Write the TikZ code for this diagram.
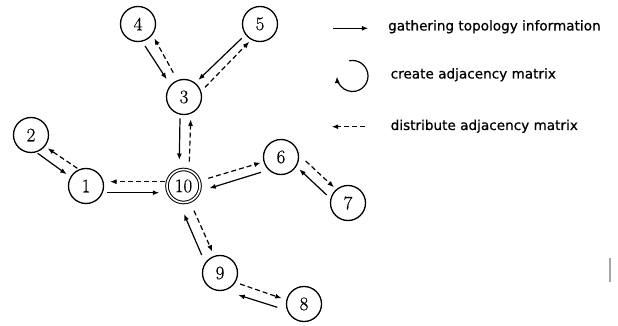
\documentclass[tikz,border=0pt]{standalone}
\usepackage{fontspec}
\newfontfamily\legfont[FakeBold=0.6]{DejaVu Sans}
\newfontfamily\numfont[FakeBold=0.5]{Latin Modern Roman}
\usetikzlibrary{arrows.meta}
\begin{document}
\begin{tikzpicture}[x=1pt,y=-1pt,
  nd/.style={circle,draw,line width=1.3pt,minimum size=35pt,inner sep=0pt,font=\numfont\fontsize{19}{19}\selectfont},
  hub/.style={nd,minimum size=33pt,double,double distance=1.6pt,line width=1pt},
  gath/.style={line width=1.2pt,-{Latex[length=6.5pt,width=5pt]}},
  dist/.style={gath,dash pattern=on 5pt off 3pt},
  leg/.style={anchor=base west,inner sep=0pt,font=\legfont\fontsize{13.6}{14}\selectfont}]
\useasboundingbox[fill=white] (0,0) rectangle (618,326);

% nodes
\node[nd] (n4) at (138,24) {4};
\node[nd] (n5) at (260,24) {5};
\node[nd] (n3) at (184,97) {3};
\node[nd] (n2) at (31,135) {2};
\node[nd] (n1) at (86,186) {1};
\node[hub] (n10) at (183.5,186) {10};
\node[nd] (n6) at (281,157) {6};
\node[nd] (n7) at (348,203) {7};
\node[nd] (n9) at (220,273) {9};
\node[nd] (n8) at (304,304) {8};

% 4 - 3
\draw[gath] ([shift={(7,22)}]n4.center) -- ([shift={(-17.3,-17.7)}]n3.center);
\draw[dist] ([shift={(-10.7,-24.3)}]n3.center) -- ([shift={(16.3,14.3)}]n4.center);
% 5 - 3
\draw[gath] ([shift={(-18.3,14.3)}]n5.center) -- ([shift={(14.3,-17)}]n3.center);
\draw[dist] ([shift={(21,-9.7)}]n3.center) -- ([shift={(-10.7,17.7)}]n5.center);
% 3 - 10
\draw[gath] ([shift={(-4,21.3)}]n3.center) -- ([shift={(-4.2,-26)}]n10.center);
\draw[dist] ([shift={(5.8,-24.3)}]n10.center) -- ([shift={(6.7,22.3)}]n3.center);
% 2 - 1
\draw[gath] ([shift={(6.7,18.3)}]n2.center) -- ([shift={(-19.3,-11.7)}]n1.center);
\draw[dist] ([shift={(-8.7,-17.7)}]n1.center) -- ([shift={(16.7,13.3)}]n2.center);
% 1 - 10
\draw[dist] ([shift={(-18.5,-4.3)}]n10.center) -- ([shift={(24,-4.3)}]n1.center);
\draw[gath] ([shift={(21.3,6.7)}]n1.center) -- ([shift={(-24.2,6.7)}]n10.center);
% 10 - 6
\draw[dist] ([shift={(24.8,-7.7)}]n10.center) -- ([shift={(-20.3,5.7)}]n6.center);
\draw[gath] ([shift={(-20,15.3)}]n6.center) -- ([shift={(25.8,2.3)}]n10.center);
% 6 - 7
\draw[dist] ([shift={(24.7,4)}]n6.center) -- ([shift={(-14,-15.7)}]n7.center);
\draw[gath] ([shift={(-21.3,-8)}]n7.center) -- ([shift={(18.3,12.3)}]n6.center);
% 10 - 9
\draw[dist] ([shift={(10.5,24.7)}]n10.center) -- ([shift={(-7.7,-21.3)}]n9.center);
\draw[gath] ([shift={(-18.3,-18)}]n9.center) -- ([shift={(0.5,28)}]n10.center);
% 9 - 8
\draw[dist] ([shift={(20,11)}]n9.center) -- ([shift={(-22.3,-5.7)}]n8.center);
\draw[gath] ([shift={(-26.7,3.3)}]n8.center) -- ([shift={(18.3,22)}]n9.center);

% legend
\coordinate (la1) at (333,28.3);
\coordinate (la2) at (368.3,28.3);
\draw[gath] (la1) -- (la2);
\node[leg] (t1) at (388,30.5) {gathering topology information};

\coordinate (lc) at (352.5,76);
\draw[gath] ([shift={(102:15.5pt)}]lc) arc[start angle=102,end angle=-178,radius=15.5pt];
\node[leg] (t2) at (390.5,78.5) {create adjacency matrix};

\coordinate (ld1) at (365,126.7);
\coordinate (ld2) at (331.7,126.7);
\draw[dist] (ld1) -- (ld2);
\node[leg] (t3) at (390.5,130) {distribute adjacency matrix};

% stray mark at right
\draw[gray!70,line width=1.5pt] (610,258) -- (610,282);
\end{tikzpicture}
\end{document}
